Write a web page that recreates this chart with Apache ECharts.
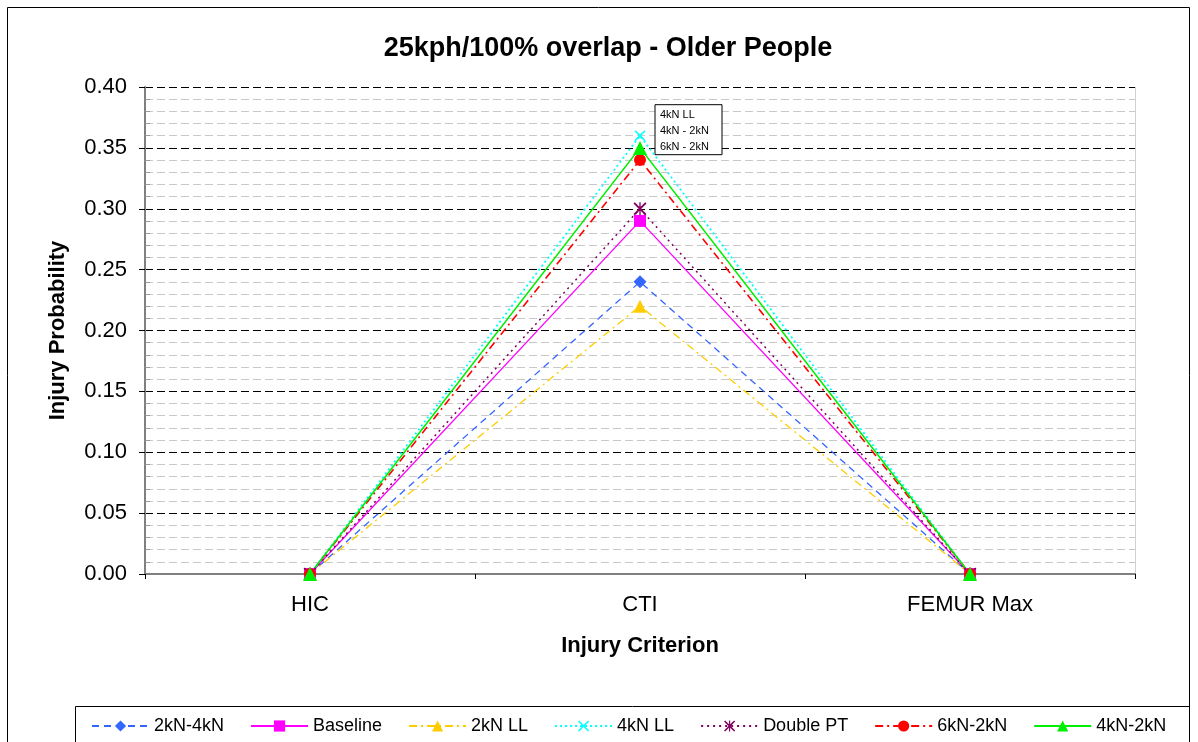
<!DOCTYPE html>
<html>
<head>
<meta charset="utf-8">
<script src="https://cdn.jsdelivr.net/npm/echarts@6/dist/echarts.min.js"></script>
<title>25kph/100% overlap - Older People</title>
<style>
  html, body { margin: 0; padding: 0; background: #fff; }
  #chart { width: 1198px; height: 742px; }
</style>
</head>
<body>
<div id="chart"></div>
<script>
// data
var criteria = ["HIC", "CTI", "FEMUR Max"];
var seriesNames = ["2kN-4kN", "Baseline", "2kN LL", "4kN LL", "Double PT", "6kN-2kN", "4kN-2kN"];
var kn2kn4 = [0, 0.24, 0];
var baseline = [0, 0.29, 0];
var kn2LL = [0, 0.22, 0];
var kn4LL = [0, 0.36, 0];
var doublePT = [0, 0.30, 0];
var kn6kn2 = [0, 0.34, 0];
var kn4kn2 = [0, 0.35, 0];
var noteLines = ["4kN LL", "4kN - 2kN", "6kN - 2kN"];

var FONT = "Arial, 'Liberation Sans', sans-serif";
var xMark = "path://M0,1L1,0L5,4L9,0L10,1L6,5L10,9L9,10L5,6L1,10L0,9L4,5Z";
var starMark = "path://M0,1L1,0L4.5,3.5L4.5,0L5.5,0L5.5,3.5L9,0L10,1L6,5L10,9L9,10L5.5,6.5L5.5,10L4.5,10L4.5,6.5L1,10L0,9L4,5Z";

function mk(name, data, color, type, symbol, size, width) {
  return {
    name: name, type: "line", data: data,
    symbol: symbol, symbolSize: size,
    itemStyle: { color: color },
    lineStyle: { color: color, type: type, width: width || 1.3 },
    emphasis: { disabled: true },
    animation: false
  };
}

var series = [
  mk(seriesNames[0], kn2kn4, "#3366FF", [7, 5], "diamond", 13),
  mk(seriesNames[1], baseline, "#FF00FF", "solid", "rect", 12),
  mk(seriesNames[2], kn2LL, "#FFCC00", [8, 4, 2, 4], "triangle", 13),
  mk(seriesNames[3], kn4LL, "#00FFFF", [2, 3], xMark, 11, 1.8),
  mk(seriesNames[4], doublePT, "#800060", [2, 4], starMark, 13, 1.5),
  mk(seriesNames[5], kn6kn2, "#FF0000", [8, 4, 2, 4], "circle", 12, 1.6),
  mk(seriesNames[6], kn4kn2, "#00EE00", "solid", "triangle", 14, 1.6)
];

var myChart = echarts.init(document.getElementById("chart"));
myChart.setOption({
  backgroundColor: "#fff",
  animation: false,
  textStyle: { fontFamily: FONT },
  title: {
    text: "25kph/100% overlap - Older People",
    left: 603, top: 30, textAlign: "center",
    textStyle: { fontFamily: FONT, fontSize: 27, fontWeight: "bold", color: "#000" }
  },
  grid: { left: 145, right: 63, top: 87, bottom: 168, containLabel: false },
  xAxis: {
    type: "category",
    data: criteria,
    boundaryGap: true,
    name: "Injury Criterion",
    nameLocation: "middle",
    nameGap: 61,
    nameTextStyle: { fontFamily: FONT, fontSize: 22, fontWeight: "bold", color: "#000" },
    axisLine: { lineStyle: { color: "#808080", width: 2 } },
    axisTick: { show: true, length: 5, lineStyle: { color: "#000" } },
    axisLabel: { fontFamily: FONT, fontSize: 22, color: "#000", margin: 20 },
    splitLine: { show: false }
  },
  yAxis: {
    type: "value",
    min: 0, max: 0.4, interval: 0.05,
    name: "Injury Probability",
    nameLocation: "middle",
    nameGap: 76,
    nameTextStyle: { fontFamily: FONT, fontSize: 22, fontWeight: "bold", color: "#000" },
    axisLine: { show: true, lineStyle: { color: "#808080", width: 2 } },
    axisTick: { show: true, length: 6, lineStyle: { color: "#000" } },
    minorTick: { show: true, splitNumber: 5, length: -5, lineStyle: { color: "#999" } },
    axisLabel: { fontFamily: FONT, fontSize: 22, color: "#000", margin: 18,
      formatter: function (v) { return v.toFixed(2); } },
    splitLine: { show: true, lineStyle: { color: "#000", type: [8, 4], width: 1 } },
    minorSplitLine: { show: true, lineStyle: { color: "#c8c8c8", type: [8, 4], width: 1 } }
  },
  legend: {
    left: 86, top: 712,
    itemWidth: 57, itemHeight: 14, itemGap: 26,
    textStyle: { fontFamily: FONT, fontSize: 18, color: "#000" },
    data: seriesNames
  },
  series: series
});

// frame, plot border, legend box and the note near the CTI peak
var pTop = myChart.convertToPixel({ seriesIndex: 3 }, [1, kn4LL[1]]);
var lineH = 16;
var noteChildren = [{
  type: "rect",
  shape: { x: 0, y: 0, width: 67, height: lineH * noteLines.length + 2 },
  style: { fill: "#fff", stroke: "#000", lineWidth: 1 }
}];
noteLines.forEach(function (t, i) {
  noteChildren.push({
    type: "text",
    style: { x: 5, y: 2 + i * lineH + lineH / 2, text: t, fill: "#000",
      font: "11px " + FONT, textVerticalAlign: "middle" }
  });
});

myChart.setOption({
  graphic: [
    { type: "rect", shape: { x: 7.5, y: 7.5, width: 1182, height: 760 },
      style: { fill: null, stroke: "#000", lineWidth: 1 }, silent: true },
    { type: "line", shape: { x1: 1135.5, y1: 87, x2: 1135.5, y2: 574 },
      style: { stroke: "#d0d0d0", lineWidth: 1 }, silent: true },
    { type: "rect", shape: { x: 75.5, y: 706.5, width: 1114, height: 60 },
      style: { fill: null, stroke: "#000", lineWidth: 1 }, silent: true, z: 100 },
    { type: "group", x: pTop[0] + 15, y: pTop[1] - 31, children: noteChildren, z: 100 }
  ]
});
</script>
</body>
</html>
